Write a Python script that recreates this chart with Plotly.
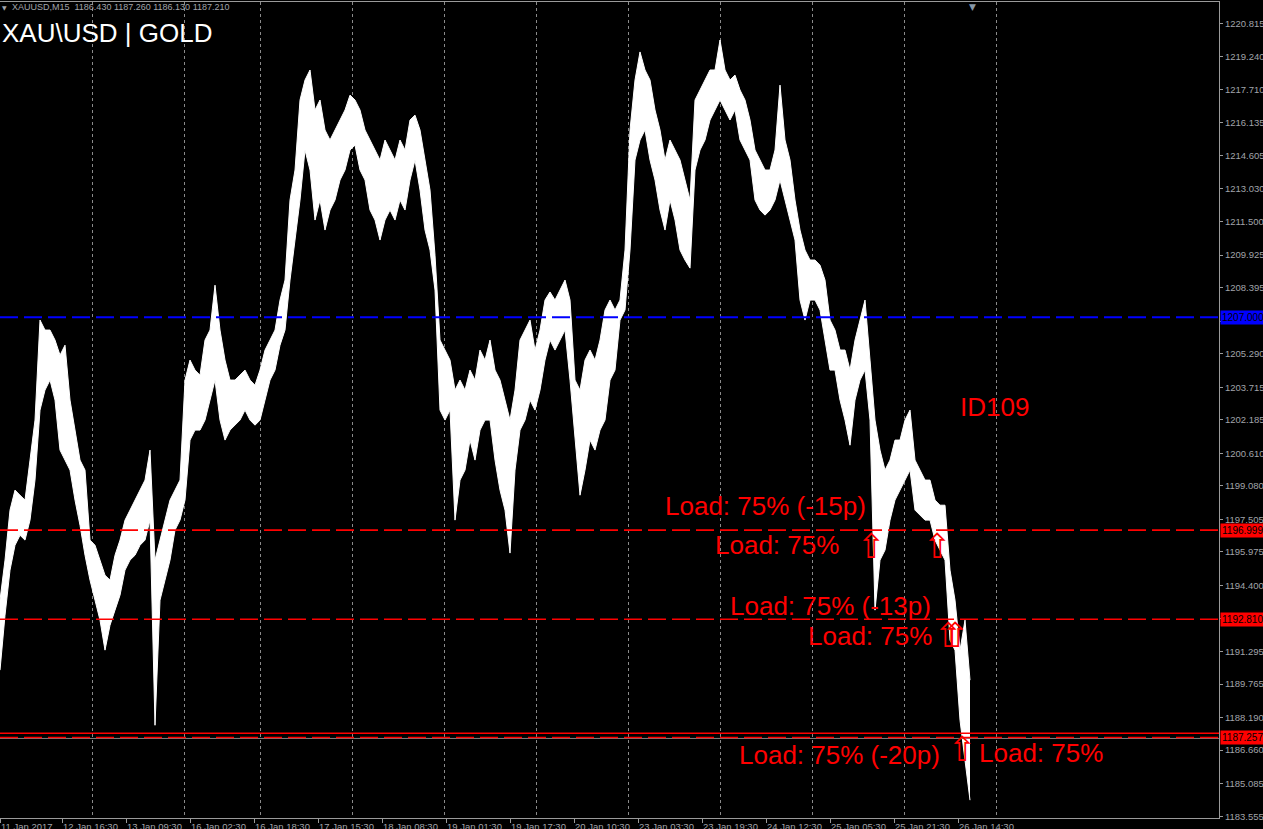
import plotly.graph_objects as go

# ---------------- data ----------------
# bar index (one M15 bar per screen column), sampled every 5 bars
bar_x = list(range(0, 971, 5))
high = [
    1193.71, 1195.59, 1197.94, 1198.88, 1198.64, 1198.41, 1200.29, 1202.17, 1206.87, 1206.40,
    1206.40, 1205.93, 1205.22, 1205.69, 1203.11, 1201.70, 1200.29, 1199.82, 1196.53, 1196.29,
    1195.59, 1194.88, 1194.65, 1195.82, 1196.53, 1197.47, 1197.94, 1198.41, 1198.88, 1199.35,
    1200.76, 1195.59, 1196.53, 1197.47, 1198.41, 1198.88, 1199.35, 1204.05, 1204.99, 1204.52,
    1204.28, 1205.93, 1206.40, 1208.51, 1206.40, 1204.99, 1204.05, 1204.05, 1204.28, 1204.52,
    1204.05, 1203.81, 1204.52, 1205.46, 1205.93, 1206.40, 1207.81, 1208.75, 1212.51, 1213.92,
    1217.21, 1218.15, 1218.62, 1216.74, 1217.21, 1215.80, 1215.33, 1215.80, 1216.27, 1216.74,
    1217.44, 1217.21, 1216.74, 1215.80, 1215.33, 1214.86, 1214.39, 1215.33, 1214.86, 1214.39,
    1215.33, 1214.86, 1216.27, 1216.50, 1215.80, 1214.39, 1212.98, 1209.92, 1205.93, 1205.46,
    1204.99, 1203.58, 1204.05, 1203.58, 1204.52, 1204.05, 1205.46, 1204.99, 1205.93, 1204.52,
    1204.05, 1203.11, 1202.17, 1203.58, 1205.93, 1206.40, 1206.87, 1205.46, 1206.40, 1207.81,
    1208.19, 1207.81, 1208.28, 1208.75, 1207.81, 1204.05, 1203.58, 1204.99, 1205.46, 1204.99,
    1205.93, 1207.34, 1207.81, 1207.34, 1207.81, 1210.16, 1215.80, 1218.15, 1219.47, 1218.62,
    1218.15, 1216.74, 1215.80, 1214.39, 1215.33, 1214.86, 1214.39, 1213.45, 1212.51, 1217.21,
    1217.68, 1218.15, 1218.62, 1218.62, 1220.03, 1218.62, 1218.15, 1218.38, 1217.68, 1217.21,
    1216.27, 1214.86, 1214.39, 1213.92, 1213.92, 1214.86, 1217.91, 1215.33, 1214.39, 1212.51,
    1211.10, 1210.16, 1209.69, 1209.69, 1209.45, 1208.75, 1206.87, 1206.40, 1205.46, 1205.46,
    1204.52, 1205.93, 1206.87, 1207.81, 1204.99, 1202.17, 1200.76, 1199.82, 1200.29, 1201.23,
    1201.23, 1202.17, 1202.64, 1200.29, 1199.82, 1199.35, 1199.35, 1198.41, 1198.17, 1198.17,
    1195.12, 1193.71, 1191.36, 1192.77, 1189.95,
]
low = [
    1190.42, 1193.00, 1195.12, 1196.29, 1196.76, 1196.53, 1197.47, 1199.35, 1202.64, 1203.58,
    1204.05, 1203.11, 1200.76, 1200.29, 1199.82, 1198.41, 1197.23, 1195.82, 1194.65, 1193.71,
    1192.77, 1191.36, 1192.53, 1193.24, 1193.94, 1195.12, 1195.59, 1195.82, 1196.29, 1196.53,
    1197.47, 1187.83, 1193.71, 1194.65, 1195.59, 1197.00, 1197.47, 1198.41, 1201.23, 1201.70,
    1201.70, 1202.17, 1203.11, 1204.05, 1202.17, 1201.23, 1201.70, 1201.93, 1202.17, 1202.64,
    1202.17, 1201.93, 1202.17, 1203.11, 1204.05, 1204.52, 1205.69, 1206.40, 1208.75, 1210.63,
    1212.51, 1214.86, 1213.92, 1211.57, 1212.51, 1211.10, 1212.04, 1212.51, 1213.45, 1213.92,
    1214.86, 1215.09, 1213.92, 1213.45, 1212.04, 1211.57, 1210.63, 1211.57, 1212.04, 1211.57,
    1212.51, 1212.04, 1213.45, 1214.39, 1212.98, 1211.10, 1210.16, 1208.28, 1202.64, 1202.17,
    1202.64, 1197.47, 1199.35, 1199.82, 1201.23, 1200.29, 1201.70, 1202.17, 1202.17, 1200.29,
    1198.88, 1197.94, 1195.92, 1199.82, 1201.70, 1202.17, 1203.11, 1202.64, 1203.58, 1204.99,
    1205.93, 1205.46, 1205.93, 1206.40, 1204.05, 1201.23, 1198.64, 1199.82, 1201.23, 1200.76,
    1201.70, 1202.17, 1204.05, 1204.52, 1206.87, 1207.34, 1210.16, 1214.39, 1215.33, 1215.80,
    1214.39, 1213.45, 1212.04, 1211.10, 1212.51, 1211.57, 1210.16, 1209.69, 1209.31, 1213.92,
    1214.86, 1215.33, 1216.27, 1216.74, 1217.21, 1216.74, 1216.27, 1216.74, 1215.33, 1214.86,
    1214.39, 1212.51, 1212.04, 1211.80, 1212.04, 1212.51, 1213.45, 1212.51, 1211.57, 1210.63,
    1207.81, 1206.87, 1207.81, 1207.81, 1207.34, 1205.93, 1204.52, 1204.52, 1203.11, 1202.17,
    1200.99, 1203.11, 1204.05, 1204.52, 1202.17, 1193.24, 1195.59, 1196.06, 1197.47, 1198.41,
    1198.88, 1199.35, 1199.82, 1197.94, 1197.70, 1197.47, 1197.47, 1196.53, 1196.06, 1195.59,
    1191.83, 1191.36, 1188.07, 1186.19, 1184.31,
]

# price axis ticks (1192.870 sits under the 1192.810 tag, so its label is hidden)
y_ticks = [1220.815, 1219.240, 1217.710, 1216.135, 1214.605, 1213.030, 1211.500, 1209.925,
           1208.395, 1206.820, 1205.290, 1203.715, 1202.185, 1200.610, 1199.080, 1197.505,
           1195.975, 1194.400, 1192.870, 1191.295, 1189.765, 1188.190, 1186.660, 1185.085,
           1183.555]
hidden_ticks = [1192.870]
# time axis ticks (bar index) and labels
x_ticks = [0, 62, 126, 190, 254, 318, 382, 446, 510, 574, 638, 702, 766, 830, 894, 958]
x_labels = ["11 Jan 2017", "12 Jan 16:30", "13 Jan 09:30", "16 Jan 02:30", "16 Jan 18:30",
            "17 Jan 15:30", "18 Jan 08:30", "19 Jan 01:30", "19 Jan 17:30", "20 Jan 10:30",
            "23 Jan 03:30", "23 Jan 19:30", "24 Jan 12:30", "25 Jan 05:30", "25 Jan 21:30",
            "26 Jan 14:30"]
# day separators (bar index)
day_starts = [1, 92, 184, 260, 352, 444, 536, 628, 720, 812, 904, 996]

# horizontal levels
levels = [1207.000, 1196.999, 1192.810, 1187.257]
level_colors = ["#0000ff", "#ff0000", "#ff0000", "#ff0000"]
level_widths = [2, 1.6, 1.6, 1.6]
tp_level = 1187.45
bid_price = 1187.210

# entry arrows
arrow_x = [871, 937, 948, 955, 962]
arrow_price = [1196.999, 1196.999, 1192.810, 1192.810, 1187.45]

# text labels: (text, bar index, price, anchor)
load_labels = [
    ("Load: 75% (-15p)", 868, 1198.13, "right"),
    ("Load: 75%", 841, 1196.30, "right"),
    ("Load: 75% (-13p)", 933, 1193.43, "right"),
    ("Load: 75%", 934, 1192.02, "right"),
    ("Load: 75% (-20p)", 942, 1186.43, "right"),
    ("Load: 75%", 977, 1186.52, "left"),
]
id_label = ("ID109", 958, 1202.78)

# ---------------- figure ----------------
fig = go.Figure()
fig.add_trace(go.Scatter(x=bar_x, y=high, mode="lines",
                         line=dict(color="white", width=1), hoverinfo="skip", showlegend=False))
fig.add_trace(go.Scatter(x=bar_x, y=low, mode="lines", fill="tonexty", fillcolor="white",
                         line=dict(color="white", width=1), hoverinfo="skip", showlegend=False))

shapes = []
shapes.append(dict(type="line", xref="paper", x0=0, x1=1, yref="y", y0=bid_price, y1=bid_price,
                   line=dict(color="#808080", width=1)))
for lv, col, lw in zip(levels, level_colors, level_widths):
    shapes.append(dict(type="line", xref="paper", x0=0, x1=1, yref="y", y0=lv, y1=lv,
                       line=dict(color=col, width=lw, dash="18px,6px")))
shapes.append(dict(type="line", xref="paper", x0=0, x1=1, yref="y", y0=tp_level, y1=tp_level,
                   line=dict(color="#ff0000", width=1.5)))

annotations = []
# entry arrows (hollow up arrows, tip on the level)
for ax_, ap_ in zip(arrow_x, arrow_price):
    annotations.append(dict(x=ax_, y=ap_, xref="x", yref="y", xanchor="center",
                            yanchor="top", yshift=6, text="⇧", showarrow=False,
                            font=dict(family="DejaVu Sans", size=34, color="#ff0000")))
# price tags on the axis
for lv, col in zip(levels, level_colors):
    annotations.append(dict(xref="paper", x=1, xanchor="left", xshift=1, yref="y", y=lv,
                            yanchor="middle", text=f"{lv:.3f}", showarrow=False,
                            bgcolor=col, borderpad=1, width=44, align="left",
                            font=dict(family="Liberation Sans", size=10, color="black")))
for txt, xx, yy, anc in load_labels:
    annotations.append(dict(x=xx, y=yy, xref="x", yref="y", xanchor=anc, yanchor="middle",
                            text=txt, showarrow=False,
                            font=dict(family="Liberation Sans", size=26, color="#ff0000")))
annotations.append(dict(x=id_label[1], y=id_label[2], xref="x", yref="y", xanchor="left",
                        yanchor="middle", text=id_label[0], showarrow=False,
                        font=dict(family="Liberation Sans", size=26, color="#ff0000")))
annotations.append(dict(xref="paper", yref="paper", x=0.0, y=0.962, xanchor="left",
                        yanchor="middle", text="XAU\\USD | GOLD", showarrow=False,
                        font=dict(family="Liberation Sans", size=26, color="white")))
annotations.append(dict(xref="paper", yref="paper", x=0.0085, y=0.9935, xanchor="left",
                        yanchor="middle",
                        text="XAUUSD,M15  1186.430 1187.260 1186.130 1187.210",
                        showarrow=False,
                        font=dict(family="Liberation Sans", size=9, color="#a0a4aa")))
annotations.append(dict(xref="paper", yref="paper", x=0.0, y=0.9935, xanchor="left",
                        yanchor="middle", text="▼", showarrow=False,
                        font=dict(family="DejaVu Sans", size=6, color="#a0a4aa")))
annotations.append(dict(xref="paper", yref="paper", x=0.798, y=1.0, xanchor="center",
                        yanchor="top", yshift=2, text="▼", showarrow=False,
                        font=dict(family="DejaVu Sans", size=9, color="#8898a8")))

axis_gray = "#9a9a9a"
fig.update_layout(
    width=1263, height=829,
    margin=dict(l=0, r=44, t=2, b=11, autoexpand=False),
    paper_bgcolor="black", plot_bgcolor="black",
    showlegend=False,
    shapes=shapes, annotations=annotations,
    xaxis=dict(range=[0, 1219], showgrid=False, zeroline=False, automargin=False,
               showline=True, mirror=True, linecolor=axis_gray, linewidth=1,
               tickmode="array", tickvals=x_ticks, ticktext=x_labels, tickangle=0,
               ticks="outside", ticklen=4, tickcolor=axis_gray,
               ticklabelposition="outside right",
               tickfont=dict(family="Liberation Sans", size=9.5, color="#a0a4aa"),
               minor=dict(tickmode="array", tickvals=day_starts, showgrid=True,
                          gridcolor="#8a8a8a", griddash="3px,3px", gridwidth=1, ticks="")),
    yaxis=dict(range=[1183.472, 1221.816], side="right", showgrid=False, zeroline=False,
               automargin=False,
               showline=True, linecolor=axis_gray, linewidth=1,
               tickmode="array", tickvals=y_ticks,
               ticktext=["" if v in hidden_ticks else f"{v:.3f}" for v in y_ticks],
               ticks="outside", ticklen=3, tickcolor=axis_gray,
               tickfont=dict(family="Liberation Sans", size=9.5, color="#a0a4aa")),
)

fig.write_html("out.html")
